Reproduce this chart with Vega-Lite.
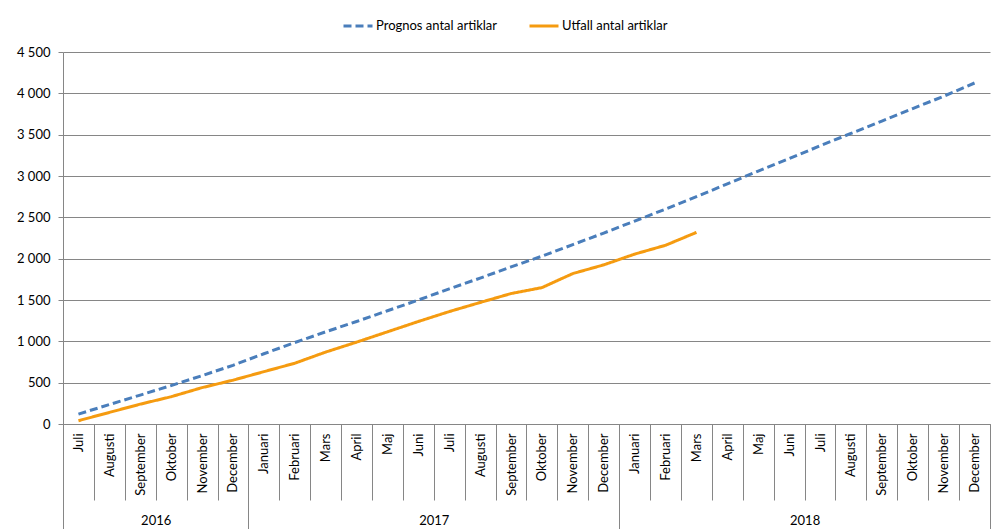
{
  "$schema": "https://vega.github.io/schema/vega-lite/v6.json",
  "width": 927,
  "height": 372,
  "autosize": {"type": "none"},
  "padding": {"left": 63, "top": 52, "right": 7, "bottom": 105},
  "background": "white",
  "config": {
    "font": "Lato",
    "view": {"stroke": null},
    "axis": {"labelFont": "Lato", "labelColor": "#000000", "domainColor": "#868686", "tickColor": "#868686", "gridColor": "#868686", "labelFontSize": 13}
  },
  "datasets": {
    "main": [
      {"month": "2016-07", "series": "Prognos antal artiklar", "value": 120},
      {"month": "2016-08", "series": "Prognos antal artiklar", "value": 235},
      {"month": "2016-09", "series": "Prognos antal artiklar", "value": 350},
      {"month": "2016-10", "series": "Prognos antal artiklar", "value": 465},
      {"month": "2016-11", "series": "Prognos antal artiklar", "value": 585},
      {"month": "2016-12", "series": "Prognos antal artiklar", "value": 710},
      {"month": "2017-01", "series": "Prognos antal artiklar", "value": 850},
      {"month": "2017-02", "series": "Prognos antal artiklar", "value": 985},
      {"month": "2017-03", "series": "Prognos antal artiklar", "value": 1115},
      {"month": "2017-04", "series": "Prognos antal artiklar", "value": 1240},
      {"month": "2017-05", "series": "Prognos antal artiklar", "value": 1370},
      {"month": "2017-06", "series": "Prognos antal artiklar", "value": 1500},
      {"month": "2017-07", "series": "Prognos antal artiklar", "value": 1635},
      {"month": "2017-08", "series": "Prognos antal artiklar", "value": 1765},
      {"month": "2017-09", "series": "Prognos antal artiklar", "value": 1900},
      {"month": "2017-10", "series": "Prognos antal artiklar", "value": 2030},
      {"month": "2017-11", "series": "Prognos antal artiklar", "value": 2170},
      {"month": "2017-12", "series": "Prognos antal artiklar", "value": 2310},
      {"month": "2018-01", "series": "Prognos antal artiklar", "value": 2455},
      {"month": "2018-02", "series": "Prognos antal artiklar", "value": 2600},
      {"month": "2018-03", "series": "Prognos antal artiklar", "value": 2750},
      {"month": "2018-04", "series": "Prognos antal artiklar", "value": 2905},
      {"month": "2018-05", "series": "Prognos antal artiklar", "value": 3060},
      {"month": "2018-06", "series": "Prognos antal artiklar", "value": 3210},
      {"month": "2018-07", "series": "Prognos antal artiklar", "value": 3365},
      {"month": "2018-08", "series": "Prognos antal artiklar", "value": 3515},
      {"month": "2018-09", "series": "Prognos antal artiklar", "value": 3665},
      {"month": "2018-10", "series": "Prognos antal artiklar", "value": 3815},
      {"month": "2018-11", "series": "Prognos antal artiklar", "value": 3965},
      {"month": "2018-12", "series": "Prognos antal artiklar", "value": 4125},
      {"month": "2016-07", "series": "Utfall antal artiklar", "value": 40},
      {"month": "2016-08", "series": "Utfall antal artiklar", "value": 140},
      {"month": "2016-09", "series": "Utfall antal artiklar", "value": 240},
      {"month": "2016-10", "series": "Utfall antal artiklar", "value": 330},
      {"month": "2016-11", "series": "Utfall antal artiklar", "value": 440},
      {"month": "2016-12", "series": "Utfall antal artiklar", "value": 530},
      {"month": "2017-01", "series": "Utfall antal artiklar", "value": 633},
      {"month": "2017-02", "series": "Utfall antal artiklar", "value": 735},
      {"month": "2017-03", "series": "Utfall antal artiklar", "value": 870},
      {"month": "2017-04", "series": "Utfall antal artiklar", "value": 990},
      {"month": "2017-05", "series": "Utfall antal artiklar", "value": 1115},
      {"month": "2017-06", "series": "Utfall antal artiklar", "value": 1240},
      {"month": "2017-07", "series": "Utfall antal artiklar", "value": 1360},
      {"month": "2017-08", "series": "Utfall antal artiklar", "value": 1470},
      {"month": "2017-09", "series": "Utfall antal artiklar", "value": 1578},
      {"month": "2017-10", "series": "Utfall antal artiklar", "value": 1650},
      {"month": "2017-11", "series": "Utfall antal artiklar", "value": 1820},
      {"month": "2017-12", "series": "Utfall antal artiklar", "value": 1925},
      {"month": "2018-01", "series": "Utfall antal artiklar", "value": 2055},
      {"month": "2018-02", "series": "Utfall antal artiklar", "value": 2162},
      {"month": "2018-03", "series": "Utfall antal artiklar", "value": 2318}
    ],
    "years": [
      {"year": "2016", "start": 0, "end": 6},
      {"year": "2017", "start": 6, "end": 18},
      {"year": "2018", "start": 18, "end": 30}
    ]
  },
  "layer": [
    {
      "data": {"name": "main"},
      "mark": {"type": "line", "strokeWidth": 3},
      "encoding": {
        "x": {
          "field": "month",
          "type": "ordinal",
          "bandPosition": 0.5,
          "scale": {"type": "band", "paddingInner": 0, "paddingOuter": 0},
          "axis": {
            "orient": "bottom",
            "title": null,
            "tickBand": "extent",
            "tickSize": 76,
            "labelAngle": -90,
            "labelPadding": -67,
            "labelOverlap": false,
            "labelBound": false,
            "grid": false,
            "labelExpr": "isString(datum.value) ? ['Januari','Februari','Mars','April','Maj','Juni','Juli','Augusti','September','Oktober','November','December'][toNumber(slice(datum.value,5))-1] : ''"
          }
        },
        "y": {
          "field": "value",
          "type": "quantitative",
          "scale": {"domain": [0, 4500], "nice": false},
          "axis": {
            "title": null,
            "values": [0, 500, 1000, 1500, 2000, 2500, 3000, 3500, 4000, 4500],
            "labelExpr": "replace(format(datum.value, ','), ',', ' ')",
            "tickSize": 5,
            "labelPadding": 8,
            "grid": true,
            "domain": true
          }
        },
        "color": {
          "field": "series",
          "type": "nominal",
          "scale": {"domain": ["Prognos antal artiklar", "Utfall antal artiklar"], "range": ["#4A7EBB", "#F59B10"]},
          "legend": {
            "title": null,
            "orient": "none",
            "legendX": 279,
            "legendY": -42,
            "direction": "horizontal",
            "symbolType": "stroke",
            "symbolSize": 841,
            "symbolStrokeWidth": 3,
            "labelFontSize": 13,
            "labelFont": "Lato",
            "labelColor": "#000000",
            "columnPadding": 25,
            "labelOffset": 2
          }
        },
        "strokeDash": {
          "field": "series",
          "type": "nominal",
          "scale": {"domain": ["Prognos antal artiklar", "Utfall antal artiklar"], "range": [[8, 4], [1, 0]]},
          "legend": {
            "title": null,
            "orient": "none",
            "legendX": 279,
            "legendY": -42,
            "direction": "horizontal",
            "symbolType": "stroke",
            "symbolSize": 841,
            "symbolStrokeWidth": 3,
            "labelFontSize": 13,
            "labelFont": "Lato",
            "labelColor": "#000000",
            "columnPadding": 25,
            "labelOffset": 2
          }
        }
      }
    },
    {
      "data": {"name": "years"},
      "mark": {"type": "point", "opacity": 0},
      "encoding": {
        "x": {
          "field": "start",
          "type": "quantitative",
          "scale": {"domain": [0, 30], "nice": false, "zero": false},
          "axis": {
            "orient": "bottom",
            "title": null,
            "values": [0, 3, 6, 12, 18, 24, 30],
            "domain": false,
            "grid": false,
            "tickSize": 110,
            "tickOpacity": {"condition": {"test": "datum.value == 3 || datum.value == 12 || datum.value == 24", "value": 0}, "value": 1},
            "labelExpr": "datum.value == 3 ? '2016' : datum.value == 12 ? '2017' : datum.value == 24 ? '2018' : ''",
            "labelAngle": 0,
            "labelPadding": -20,
            "labelOverlap": false,
            "labelBound": false,
            "labelFlush": false
          }
        }
      }
    }
  ],
  "resolve": {"scale": {"x": "independent"}, "axis": {"x": "independent"}}
}
